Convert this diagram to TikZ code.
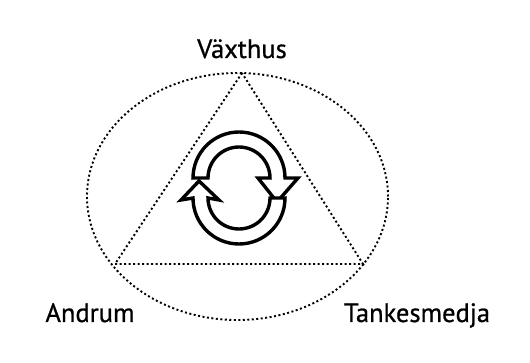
\documentclass[tikz,border=0pt]{standalone}
\usepackage{fontspec}
\newfontfamily\lblfont{PT Sans}[FakeBold=0.8]
\usetikzlibrary{shapes.geometric}
\tikzset{
  dotline/.style={line width=1.9pt, dash pattern=on 2pt off 2.5pt, black},
  lbl/.style={font=\lblfont\fontsize{26.5}{30}\selectfont, inner sep=0pt, anchor=base},
  cyc/.style={line width=3.4pt, fill=white, line join=miter},
}
\begin{document}
\begin{tikzpicture}[x=1pt,y=1pt]
\useasboundingbox (0,0) rectangle (530,-363);
% ellipse
\node[dotline, draw, ellipse, minimum width=301pt, minimum height=247pt, inner sep=0pt] (ell) at (237.5,-196.5) {};
% triangle corners
\coordinate (top) at (242,-73);
\coordinate (bl) at (115,-264);
\coordinate (br) at (363,-264);
\draw[dotline] (top) -- (bl) -- (br) -- cycle;
% labels
\node[lbl] (vax) at (242,-58) {Växthus};
\node[lbl] (and) at (90,-322) {Andrum};
\node[lbl] (tank) at (417,-322) {Tankesmedja};
% cycle icon
\coordinate (c1) at (239,-178);
\coordinate (c2) at (239,-198);
\draw[cyc] (193,-178) arc[start angle=180, end angle=0, radius=46]
  -- (298,-178) -- (277,-202) -- (258,-178) -- (270,-178)
  arc[start angle=0, end angle=180, radius=31] -- cycle;
\draw[cyc] (285,-198) arc[start angle=0, end angle=-180, radius=46]
  -- (181,-200) -- (199,-181) -- (219,-200) -- (208,-198)
  arc[start angle=-180, end angle=0, radius=31] -- cycle;
\end{tikzpicture}
\end{document}
